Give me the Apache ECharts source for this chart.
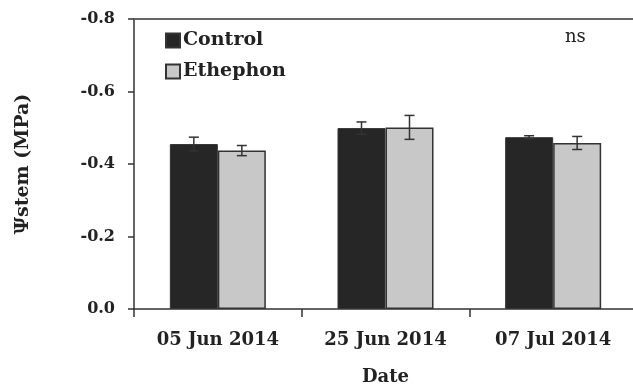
<!DOCTYPE html>
<html><head><meta charset="utf-8">
<script src="https://cdn.jsdelivr.net/npm/echarts@6/dist/echarts.min.js"></script>
<style>html,body{margin:0;padding:0;background:#fff}#c{width:633px;height:387px}</style>
</head><body><div id="c"></div>
<script>
const categories = ['05 Jun 2014', '25 Jun 2014', '07 Jul 2014'];
const controlValues = [-0.455, -0.499, -0.474];
const controlErrors = [0.019, 0.017, 0.004];
const ethephonValues = [-0.437, -0.501, -0.458];
const ethephonErrors = [0.014, 0.033, 0.018];
const yTicks = [-0.8, -0.6, -0.4, -0.2, 0.0];

const FONT = '"DejaVu Serif", "Liberation Serif", serif';
const BAR_W = 48;

function errSeries(name, values, errors, dir) {
  return {
    type: 'custom', name: name + ' err', z: 5,
    data: values.map((v, i) => [i, v, errors[i]]),
    renderItem: function (params, api) {
      const i = api.value(0), v = api.value(1), e = api.value(2);
      const hi = api.coord([i, v - e]);
      const lo = api.coord([i, v + e]);
      const x = hi[0] + dir * BAR_W / 2;
      const cap = 5;
      const st = { stroke: '#333', lineWidth: 1.5 };
      return { type: 'group', children: [
        { type: 'line', shape: { x1: x, y1: hi[1], x2: x, y2: lo[1] }, style: st },
        { type: 'line', shape: { x1: x - cap, y1: hi[1], x2: x + cap, y2: hi[1] }, style: st },
        { type: 'line', shape: { x1: x - cap, y1: lo[1], x2: x + cap, y2: lo[1] }, style: st }
      ]};
    }
  };
}

const chart = echarts.init(document.getElementById('c'));
chart.setOption({
  animation: false,
  title: { text: 'ns', left: 565, top: 28, padding: 0, textStyle: { fontFamily: FONT, fontWeight: 'normal', fontSize: 18, color: '#222' } },
  legend: {
    orient: 'vertical', left: 165, top: 31, padding: 0, itemWidth: 14, itemHeight: 14, itemGap: 12,
    icon: 'rect',
    data: ['Control', 'Ethephon'],
    textStyle: { fontFamily: FONT, fontWeight: 'bold', fontSize: 19, lineHeight: 16, color: '#222', padding: [0, 0, 0, -2] }
  },
  grid: { left: 134, top: 19, width: 503, height: 290, outerBoundsMode: 'none', containLabel: false },
  xAxis: [{
    type: 'category', data: categories,
    name: 'Date', nameLocation: 'middle', nameGap: 59,
    nameTextStyle: { fontFamily: FONT, fontWeight: 'bold', fontSize: 18, color: '#222' },
    axisLine: { lineStyle: { color: '#333', width: 1.5 } },
    axisTick: { show: true, length: 8, alignWithLabel: false, lineStyle: { color: '#333', width: 1.5 } },
    axisLabel: { fontFamily: FONT, fontWeight: 'bold', fontSize: 18, color: '#222', margin: 22 }
  }, {
    type: 'category', data: categories, position: 'top',
    axisLine: { show: true, lineStyle: { color: '#666', width: 2 } },
    axisTick: { show: false }, axisLabel: { show: false }
  }],
  yAxis: {
    type: 'value', inverse: true, min: -0.8, max: 0, interval: 0.2,
    name: 'Ψstem (MPa)', nameLocation: 'middle', nameGap: 101, nameRotate: 90,
    nameTextStyle: { fontFamily: FONT, fontWeight: 'bold', fontSize: 19, color: '#222' },
    axisLine: { show: true, lineStyle: { color: '#333', width: 1.5 } },
    axisTick: { show: true, inside: false, length: 6, lineStyle: { color: '#333', width: 1.5 } },
    splitLine: { show: false },
    axisLabel: { fontFamily: FONT, fontWeight: 'bold', fontSize: 16, color: '#222', margin: 19,
      formatter: v => (Math.abs(v) < 1e-9 ? '0.0' : v.toFixed(1)) }
  },
  series: [
    { name: 'Control', type: 'bar', data: controlValues, barWidth: BAR_W, barGap: '0%',
      itemStyle: { color: '#262626', borderColor: '#333', borderWidth: 1 } },
    { name: 'Ethephon', type: 'bar', data: ethephonValues, barWidth: BAR_W, barGap: '0%',
      itemStyle: { color: '#c8c8c8', borderColor: '#333', borderWidth: 1.5 } },
    errSeries('Control', controlValues, controlErrors, -1),
    errSeries('Ethephon', ethephonValues, ethephonErrors, 1)
  ]
});
</script></body></html>
